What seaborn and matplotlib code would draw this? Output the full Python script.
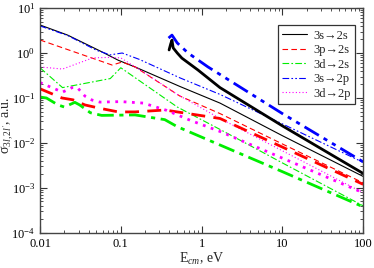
import matplotlib
matplotlib.use("Agg")
import matplotlib.pyplot as plt
import seaborn as sns
import numpy as np
from matplotlib.ticker import LogLocator, FixedLocator, FixedFormatter, NullFormatter

# thin curves (legend)
e_3s2s = [0.01, 0.022, 0.059, 0.093, 0.15, 0.54, 1.69, 10, 100]
s_3s2s = [4.2, 2.5, 1.05, 0.69, 0.49, 0.18, 0.077, 0.0145, 0.0018]

e_3p2s = [0.01, 0.078, 0.104, 0.15, 0.54, 1.69, 10, 100]
s_3p2s = [1.95, 0.54, 0.63, 0.49, 0.11, 0.045, 0.0095, 0.0013]

e_3d2s = [0.01, 0.019, 0.074, 0.1, 0.5, 1.69, 10, 100]
s_3d2s = [0.47, 0.17, 0.27, 0.47, 0.063, 0.02, 0.0036, 0.0004]

e_3s2p = [0.01, 0.022, 0.05, 0.074, 0.104, 0.17, 0.54, 1.69, 7, 100]
s_3s2p = [4.0, 2.45, 1.15, 0.91, 1.0, 0.72, 0.28, 0.12, 0.036, 0.0037]

e_3d2p = [0.01, 0.019, 0.045, 0.074, 0.1, 0.19, 0.5, 1.69, 10, 100]
s_3d2p = [0.49, 0.44, 0.78, 0.8, 0.78, 0.38, 0.12, 0.035, 0.0067, 0.00078]

# thick curves
e_3s2s_b = [0.396, 0.415, 0.43, 0.445, 0.5, 0.57, 0.9, 1.69, 10, 100]
s_3s2s_b = [1.17, 1.6, 1.93, 1.3, 1.0, 0.77, 0.42, 0.17, 0.024, 0.0021]

e_3p2s_b = [0.01, 0.0187, 0.0256, 0.036, 0.055, 0.093, 0.15, 0.35, 0.5, 1.69, 10, 100]
s_3p2s_b = [0.16, 0.1, 0.091, 0.07, 0.059, 0.049, 0.049, 0.054, 0.049, 0.035, 0.0081, 0.0012]

e_3d2s_b = [0.01, 0.012, 0.0167, 0.02, 0.027, 0.031, 0.042, 0.058, 0.15, 0.35, 0.5, 1.69, 10, 100]
s_3d2s_b = [0.105, 0.1, 0.07, 0.063, 0.08, 0.07, 0.047, 0.041, 0.042, 0.033, 0.023, 0.009, 0.0023, 0.00038]

e_3s2p_b = [0.39, 0.43, 0.5, 0.68, 1.2, 10, 100]
s_3s2p_b = [2.15, 2.5, 1.67, 1.0, 0.49, 0.045, 0.0038]

e_3d2p_b = [0.01, 0.014, 0.019, 0.025, 0.029, 0.036, 0.044, 0.055, 0.1, 0.19, 0.37, 0.72, 1.69, 10, 100]
s_3d2p_b = [0.22, 0.17, 0.135, 0.17, 0.17, 0.11, 0.09, 0.081, 0.083, 0.077, 0.053, 0.032, 0.018, 0.0046, 0.00078]

labels = ["3s\u21922s", "3p\u21922s", "3d\u21922s", "3s\u21922p", "3d\u21922p"]
colors = ["black", "red", "#00ee00", "blue", "magenta"]
styles = ["-", (0, (5, 3)), (0, (6, 2, 1.5, 2)), (0, (6, 2, 1.5, 2, 1.5, 2)), (0, (1, 2))]

sns.set_style("ticks")
plt.rcParams["font.family"] = ["Liberation Serif", "DejaVu Serif"]
plt.rcParams["mathtext.fontset"] = "custom"
plt.rcParams["mathtext.rm"] = "Liberation Serif"
plt.rcParams["mathtext.it"] = "Liberation Serif:italic"

fig = plt.figure(figsize=(3.74, 2.68), dpi=100)
ax = fig.add_axes([0.107, 0.131, 0.864, 0.839])

thin = [(e_3s2s, s_3s2s), (e_3p2s, s_3p2s), (e_3d2s, s_3d2s), (e_3s2p, s_3s2p), (e_3d2p, s_3d2p)]
thick = [(e_3s2s_b, s_3s2s_b), (e_3p2s_b, s_3p2s_b), (e_3d2s_b, s_3d2s_b), (e_3s2p_b, s_3s2p_b), (e_3d2p_b, s_3d2p_b)]

for (e, s), lab, c, ls in zip(thin, labels, colors, styles):
    sns.lineplot(x=e, y=s, ax=ax, color=c, linestyle=ls, lw=0.8, label=lab)
for (e, s), c, ls in zip(thick, colors, styles):
    sns.lineplot(x=e, y=s, ax=ax, color=c, linestyle=ls, lw=2.0)

ax.set_xscale("log")
ax.set_yscale("log")
ax.set_xlim(0.01, 100)
ax.set_ylim(1e-4, 10)

ax.xaxis.set_major_locator(FixedLocator([0.01, 0.1, 1, 10, 100]))
ax.xaxis.set_major_formatter(FixedFormatter(["0.01", "0.1", "1", "10", "100"]))
ax.xaxis.set_minor_locator(LogLocator(base=10, subs=np.arange(2, 10)))
ax.xaxis.set_minor_formatter(NullFormatter())
ax.yaxis.set_major_locator(LogLocator(base=10, numticks=10))
ax.yaxis.set_minor_locator(LogLocator(base=10, subs=np.arange(2, 10), numticks=10))
ax.yaxis.set_minor_formatter(NullFormatter())

ax.tick_params(which="both", direction="in", top=True, right=True, labelsize=9, colors="#333333", labelcolor="black")
ax.tick_params(which="major", length=5, width=0.8)
ax.tick_params(which="minor", length=2.5, width=0.6)
for sp in ax.spines.values():
    sp.set_color("#444444")
    sp.set_linewidth(1.0)

ax.set_xlabel("E$_{cm}$, eV", fontsize=10, labelpad=1)
ax.set_ylabel("\u03c3$_{3l,2l'}$, a.u.", fontsize=10)
ax.yaxis.set_label_coords(-0.074, 0.48)

leg = ax.legend(loc="upper right", bbox_to_anchor=(0.975, 0.924), borderaxespad=0,
                fontsize=9, frameon=True, fancybox=False, handlelength=2.0,
                handletextpad=0.5, labelspacing=0.2, borderpad=0.35)
leg.get_frame().set_edgecolor("black")
leg.get_frame().set_linewidth(0.9)

fig.savefig("out.png", dpi=100)
